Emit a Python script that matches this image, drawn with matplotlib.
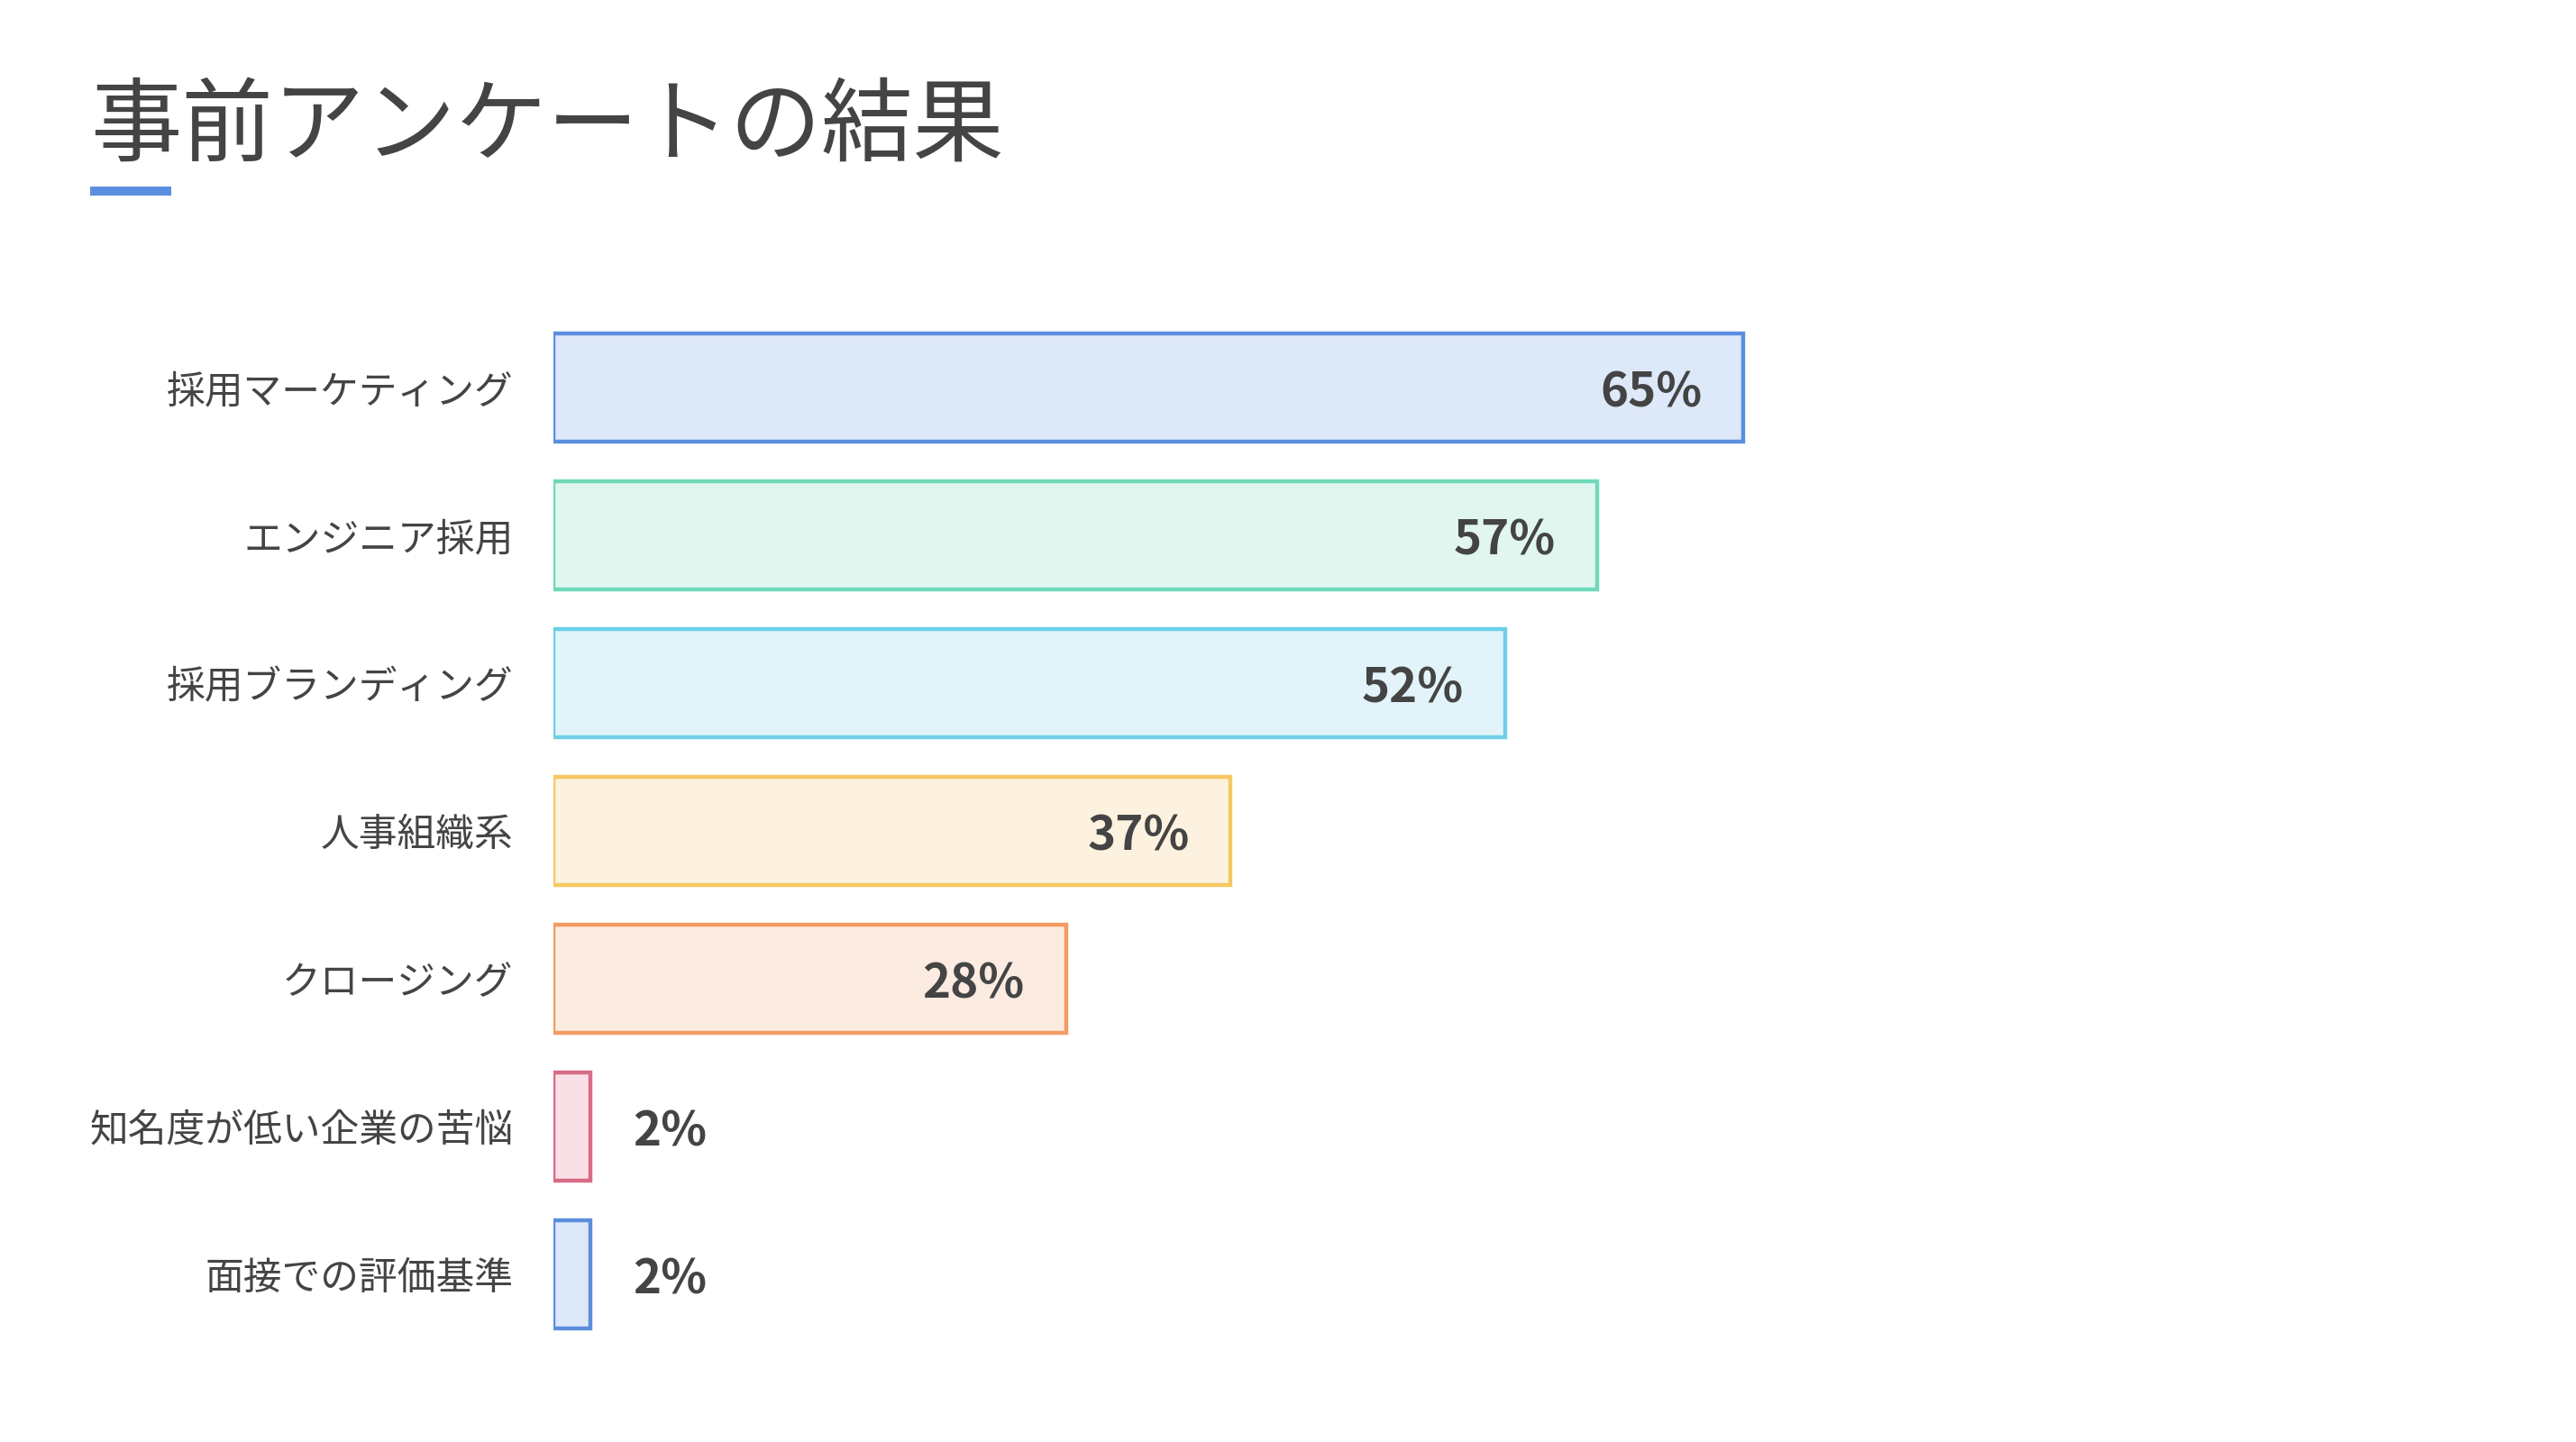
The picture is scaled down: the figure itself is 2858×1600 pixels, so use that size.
import matplotlib
matplotlib.use("Agg")
import matplotlib.pyplot as plt
from matplotlib.patches import Rectangle

plt.rcParams['font.family'] = ['Noto Sans CJK JP', 'DejaVu Sans']

# data
categories = ["採用マーケティング", "エンジニア採用", "採用ブランディング", "人事組織系",
              "クロージング", "知名度が低い企業の苦悩", "面接での評価基準"]
values = [65, 57, 52, 37, 28, 2, 2]
edge_colors = ["#5b8ede", "#6fd9b9", "#6dcfe8", "#f7c862", "#f29b62", "#d86b86", "#5b8ede"]
fill_colors = ["#dde8f8", "#e2f6f0", "#e2f4fa", "#fdf2df", "#fcebe0", "#f9e0e6", "#dde8f8"]

TEXT = "#444444"
W, H = 2858, 1600

fig = plt.figure(figsize=(W / 200, H / 200), dpi=200)
fig.patch.set_facecolor("white")

# title + accent underline
fig.text(100 / W, 1 - 141 / H, "事前アンケートの結果", fontsize=36.5, color=TEXT,
         ha="left", va="center")
fig.patches.append(Rectangle((100 / W, 1 - 217 / H), 90 / W, 10 / H,
                             transform=fig.transFigure, facecolor="#5b8de0",
                             edgecolor="none"))

# axes: 0% at x=614px, 65% at x=1934px
px_per_pct = (1934 - 614) / 65
left = 614 / W
width = 100 * px_per_pct / W
ax = fig.add_axes([left, 1 - 1496 / H, width, 1148 / H])
ax.set_xlim(0, 100)
ax.set_ylim(len(values) - 0.5, -0.5)

ypos = list(range(len(values)))
ax.barh(ypos, values, height=0.73, color=fill_colors, edgecolor=edge_colors,
        linewidth=1.6)

for y, v in zip(ypos, values):
    if v > 10:
        ax.annotate(f"{v}%", (v, y), xytext=(-16.5, -2), textcoords="offset points",
                    ha="right", va="center", fontsize=19, fontweight="bold", color=TEXT)
    else:
        ax.annotate(f"{v}%", (v, y), xytext=(17, -2), textcoords="offset points",
                    ha="left", va="center", fontsize=19, fontweight="bold", color=TEXT)

ax.set_yticks(ypos)
ax.set_yticklabels(categories, fontsize=15.4, color=TEXT)
ax.tick_params(axis="y", length=0, pad=16)
ax.set_xticks([])
for s in ax.spines.values():
    s.set_visible(False)

fig.savefig("out.png", dpi=200, facecolor="white")
